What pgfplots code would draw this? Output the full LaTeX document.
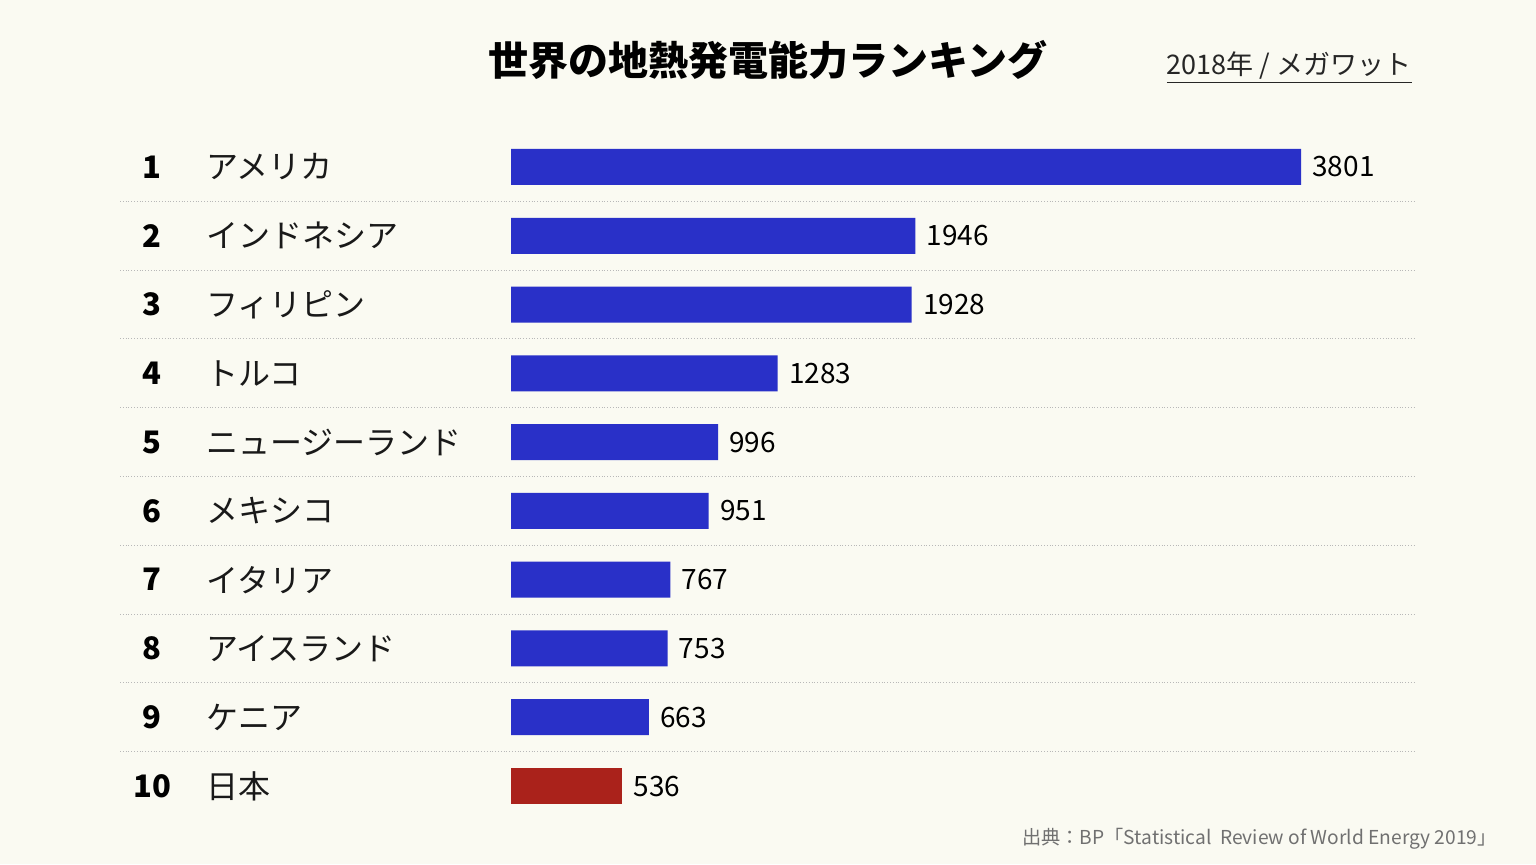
\documentclass[border=0pt]{standalone}
\usepackage{fontspec}
\setmainfont{Noto Sans CJK JP}
\usepackage{pgfplots}
\usepackage{pgfplotstable}
\pgfplotsset{compat=1.18}
\definecolor{bg}{HTML}{FAFAF2}
\definecolor{barblue}{HTML}{2930C8}
\definecolor{barred}{HTML}{AA221B}
\definecolor{sepgray}{HTML}{B8B8B8}
\definecolor{srcgray}{HTML}{707070}

\pgfplotstableread{
rank value
1 3801
2 1946
3 1928
4 1283
5 996
6 951
7 767
8 753
9 663
}\bluedata
\pgfplotstableread{
rank value
10 536
}\reddata

\begin{document}
\begin{tikzpicture}[x=1pt,y=1pt]
\fill[bg] (0,0) rectangle (768,432);

% title, unit and source
\node[font=\fontsize{20}{20}\selectfont\bfseries] at (384,402) {世界の地熱発電能力ランキング};
\node[anchor=east, inner sep=0pt, font=\fontsize{13.5}{13.5}\selectfont, text=black!85] at (706,398) {\underline{2018年 / メガワット}};
\node[anchor=east, inner sep=0pt, font=\fontsize{9.6}{9.6}\selectfont, text=srcgray] at (748.5,12.5) {出典：BP「Statistical\ \ Review of World Energy 2019」};

\begin{axis}[
    at={(60pt,21.8pt)}, anchor=south west,
    scale only axis,
    width=647.5pt, height=343.9pt,
    xmin=-1881.3, xmax=4349.5,
    ymin=0.5, ymax=10.5,
    y dir=reverse,
    axis line style={draw=none},
    xtick=\empty,
    ytick={1.5,2.5,...,9.5},
    yticklabels={},
    major tick length=0pt,
    ymajorgrids,
    major grid style={sepgray, densely dotted, line width=0.5pt},
    clip=false,
    /pgf/number format/assume math mode=true,
    /pgf/number format/1000 sep={},
    every node near coord/.append style={anchor=west, inner sep=0pt, xshift=5.5pt,
        font=\fontsize{14}{14}\selectfont, text=black},
]
\addplot[xbar, fill=barblue, draw=none, bar width=18pt, bar shift=0pt,
    nodes near coords] table[x=value, y=rank] {\bluedata};
\addplot[xbar, fill=barred, draw=none, bar width=18pt, bar shift=0pt,
    nodes near coords] table[x=value, y=rank] {\reddata};

% rank numbers
\begin{scope}[every node/.style={font=\fontsize{15.5}{15.5}\selectfont\bfseries, text=black}]
\node at (axis cs:-1727,1) {1};
\node at (axis cs:-1727,2) {2};
\node at (axis cs:-1727,3) {3};
\node at (axis cs:-1727,4) {4};
\node at (axis cs:-1727,5) {5};
\node at (axis cs:-1727,6) {6};
\node at (axis cs:-1727,7) {7};
\node at (axis cs:-1727,8) {8};
\node at (axis cs:-1727,9) {9};
\node at (axis cs:-1727,10) {10};
\end{scope}

% country names
\begin{scope}[every node/.style={anchor=west, inner sep=0pt, font=\fontsize{16}{16}\selectfont, text=black!90}]
\node at (axis cs:-1467,1) {アメリカ};
\node at (axis cs:-1467,2) {インドネシア};
\node at (axis cs:-1467,3) {フィリピン};
\node at (axis cs:-1467,4) {トルコ};
\node at (axis cs:-1467,5) {ニュージーランド};
\node at (axis cs:-1467,6) {メキシコ};
\node at (axis cs:-1467,7) {イタリア};
\node at (axis cs:-1467,8) {アイスランド};
\node at (axis cs:-1467,9) {ケニア};
\node at (axis cs:-1467,10) {日本};
\end{scope}
\end{axis}
\end{tikzpicture}
\end{document}
